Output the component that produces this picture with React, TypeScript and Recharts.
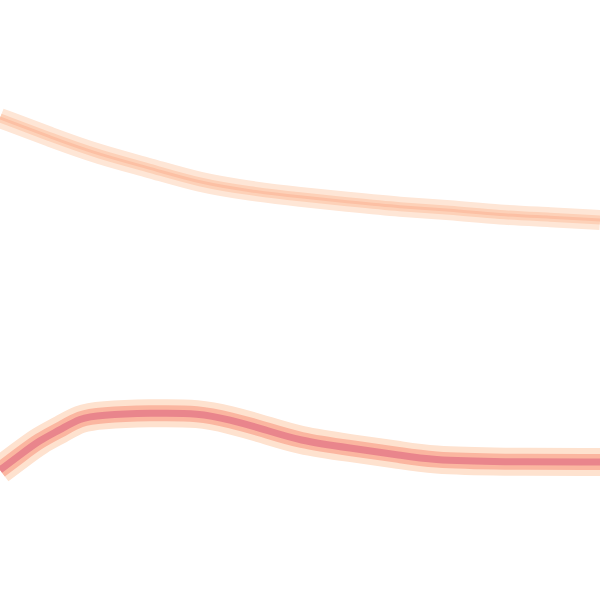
import { LineChart, Line, XAxis, YAxis } from "recharts";

// upper (light) band
const upperX = [0, 1, 2, 3, 4, 5, 6, 7, 8, 9, 10, 11, 12];
const upperY = [9.64, 9.26, 8.9, 8.64, 8.34, 8.18, 8.06, 7.96, 7.86, 7.8, 7.7, 7.66, 7.6];

// lower (dense) band
const lowerX = [0, 0.4, 0.8, 1.2, 1.6, 2, 3, 4, 4.6, 5.2, 6, 7, 8, 8.6, 10, 12];
const lowerY = [2.6, 2.9, 3.2, 3.4, 3.64, 3.7, 3.74, 3.74, 3.6, 3.44, 3.18, 3.04, 2.9, 2.8, 2.76, 2.76];

const upper = upperX.map((x, i) => ({ x, y: upperY[i] }));
const lower = lowerX.map((x, i) => ({ x, y: lowerY[i] }));

const band = (data: { x: number; y: number }[], color: string, width: number, key: string) => (
  <Line
    key={key}
    data={data}
    dataKey="y"
    type="basis"
    stroke={color}
    strokeWidth={width}
    strokeLinecap="butt"
    dot={false}
    activeDot={false}
    isAnimationActive={false}
  />
);

export default function App() {
  return (
    <div style={{ position: "fixed", top: 0, left: 0, width: 600, height: 600, background: "#fff" }}>
      <LineChart width={600} height={600} margin={{ top: 0, right: 0, bottom: 0, left: 0 }}>
        <XAxis type="number" dataKey="x" domain={[0, 12]} hide />
        <YAxis type="number" dataKey="y" domain={[0, 12]} hide />
        {band(upper, "#fee6d6", 20, "u1")}
        {band(upper, "#fdd1b8", 9, "u2")}
        {band(upper, "#fcc0a4", 3, "u3")}
        {band(lower, "#fee2cf", 28, "l1")}
        {band(lower, "#fbb6a0", 16, "l2")}
        {band(lower, "#e9858c", 7, "l3")}
      </LineChart>
    </div>
  );
}
